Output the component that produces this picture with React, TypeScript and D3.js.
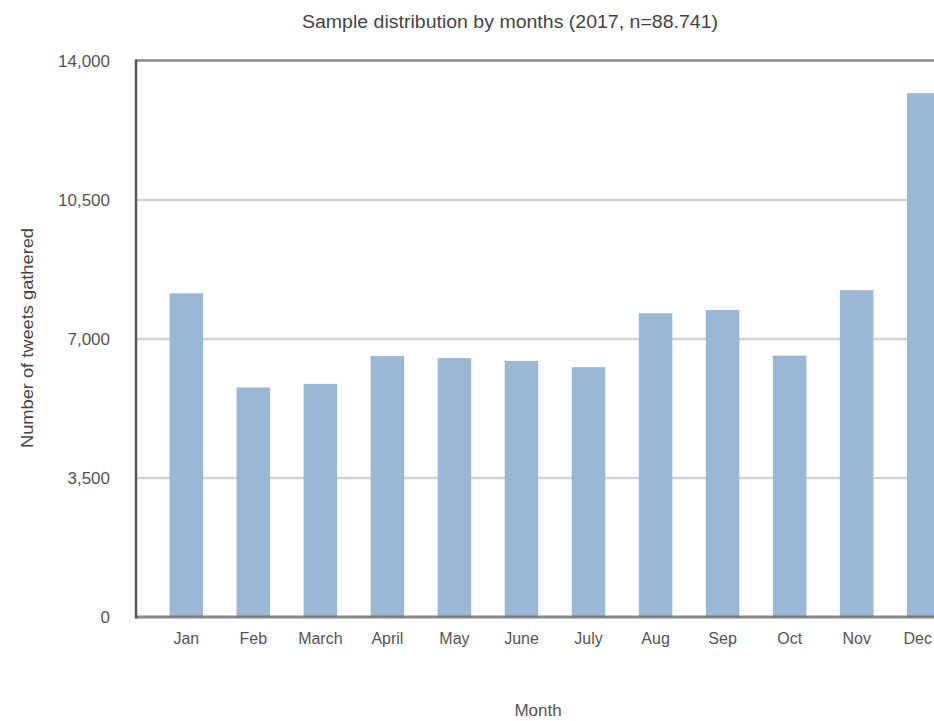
import React from "react";
import * as d3 from "d3";

const months = ["Jan", "Feb", "March", "April", "May", "June", "July", "Aug", "Sep", "Oct", "Nov", "Dec"];
const counts = [8150, 5780, 5870, 6570, 6520, 6450, 6290, 7650, 7730, 6580, 8230, 13190];
const yTicks = [0, 3500, 7000, 10500, 14000];
const titleText = "Sample distribution by months (2017, n=88.741)";
const yTitle = "Number of tweets gathered";
const xTitle = "Month";

const W = 934;
const H = 721;
const left = 136;
const right = 974;
const top = 61;
const bottom = 617;

export default function App() {
  const x = d3.scaleBand<string>().domain(months).range([left, right]).paddingInner(0.5).paddingOuter(0.5);
  const y = d3.scaleLinear().domain([0, 14000]).range([bottom, top]);
  const fmt = d3.format(",");
  const font = "'Liberation Sans', Arial, sans-serif";
  const labelFs = 16;
  return (
    <svg width={W} height={H} style={{ position: "absolute", left: 0, top: 0, background: "#fff" }} fontFamily={font}>
      <rect x={0} y={0} width={W} height={H} fill="#fff" />
      {yTicks.filter((t) => t > 0 && t < 14000).map((t) => (
        <line key={"g" + t} x1={left} x2={W} y1={y(t)} y2={y(t)} stroke="#d2d2d2" strokeWidth={2.5} />
      ))}
      {months.map((m, i) => (
        <rect key={m} x={x(m)} y={y(counts[i])} width={x.bandwidth()} height={y(0) - y(counts[i])} fill="#9bb7d6" />
      ))}
      <line x1={left} x2={W} y1={top - 0.5} y2={top - 0.5} stroke="#8a8a8a" strokeWidth={2.5} />
      <line x1={left} x2={W} y1={bottom} y2={bottom} stroke="#6a6a6a" strokeOpacity={0.8} strokeWidth={3} />
      <line x1={left} x2={left} y1={top - 1.5} y2={bottom + 1.5} stroke="#555" strokeWidth={2.5} />
      {yTicks.map((t) => (
        <text key={"t" + t} x={110} y={y(t)} dy="0.35em" textAnchor="end" fontSize={17} fill="#555">
          {fmt(t)}
        </text>
      ))}
      {months.map((m) => {
        const cx = (x(m) as number) + x.bandwidth() / 2;
        const overflow = cx + 16 > W;
        return (
          <text key={"l" + m} x={overflow ? W - 2 : cx} y={644} textAnchor={overflow ? "end" : "middle"} fontSize={labelFs} fill="#555">
            {m}
          </text>
        );
      })}
      <text x={510} y={28} textAnchor="middle" fontSize={18} fill="#444" textLength={416} lengthAdjust="spacingAndGlyphs">
        {titleText}
      </text>
      <text transform={`translate(33,338) rotate(-90)`} textAnchor="middle" fontSize={16} fill="#444" textLength={220} lengthAdjust="spacingAndGlyphs">
        {yTitle}
      </text>
      <text x={538} y={716} textAnchor="middle" fontSize={17} fill="#555">
        {xTitle}
      </text>
    </svg>
  );
}
